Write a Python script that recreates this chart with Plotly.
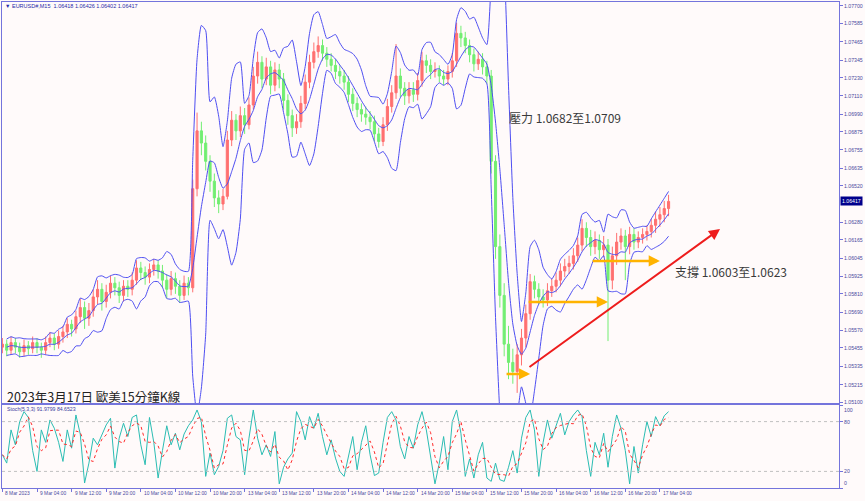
import plotly.graph_objects as go
import pandas as pd

# ---------------- data (hourly bars, index = trading hour since 8 Mar 20:00) ----------------
first_open = 1.0546
closes = [1.0548,1.0544,1.0549,1.0546,1.0543,1.0547,1.0545,1.0549,1.0546,1.0544,
          1.0549,1.0552,1.0548,1.0553,1.0556,1.0561,1.0558,1.0566,1.0572,1.0565,
          1.0570,1.0579,1.0584,1.0576,1.0582,1.0588,1.0585,1.0580,1.0586,1.0584,
          1.0590,1.0598,1.0595,1.0592,1.0597,1.0600,1.0596,1.0590,1.0584,1.0591,
          1.0586,1.0580,1.0588,1.0585,1.0650,1.0688,1.0680,1.0668,1.0655,1.0644,
          1.0640,1.0645,1.0682,1.0695,1.0688,1.0698,1.0692,1.0705,1.0724,1.0733,
          1.0722,1.0730,1.0718,1.0728,1.0722,1.0708,1.0698,1.0690,1.0694,1.0706,
          1.0720,1.0733,1.0740,1.0744,1.0739,1.0735,1.0731,1.0727,1.0724,1.0720,
          1.0712,1.0706,1.0702,1.0699,1.0697,1.0694,1.0686,1.0681,1.0692,1.0704,
          1.0713,1.0724,1.0716,1.0711,1.0715,1.0712,1.0721,1.0734,1.0731,1.0727,
          1.0728,1.0724,1.0722,1.0727,1.0734,1.0752,1.0749,1.0744,1.0738,1.0732,
          1.0735,1.0730,1.0724,1.0668,1.0612,1.0580,1.0548,1.0536,1.0530,1.0541,
          1.0552,1.0568,1.0589,1.0584,1.0579,1.0577,1.0583,1.0586,1.0590,1.0596,
          1.0599,1.0601,1.0606,1.0613,1.0624,1.0618,1.0612,1.0616,1.0610,1.0613,
          1.0590,1.0606,1.0615,1.0619,1.0612,1.0620,1.0615,1.0618,1.0620,1.0622,
          1.0626,1.0630,1.0633,1.0637,1.06417]
highs = [1.0552,1.0551,1.0553,1.0552,1.0549,1.0551,1.0550,1.0553,1.0552,1.0549,
         1.0553,1.0556,1.0555,1.0557,1.0560,1.0565,1.0564,1.0570,1.0578,1.0576,
         1.0575,1.0584,1.0590,1.0588,1.0587,1.0593,1.0592,1.0589,1.0590,1.0590,
         1.0595,1.0603,1.0602,1.0599,1.0601,1.0604,1.0603,1.0600,1.0594,1.0596,
         1.0595,1.0590,1.0593,1.0592,1.0656,1.0700,1.0694,1.0685,1.0672,1.0660,
         1.0649,1.0650,1.0688,1.0701,1.0699,1.0704,1.0703,1.0710,1.0730,1.0740,
         1.0737,1.0736,1.0734,1.0733,1.0732,1.0726,1.0712,1.0702,1.0699,1.0711,
         1.0725,1.0738,1.0746,1.0750,1.0748,1.0743,1.0739,1.0735,1.0731,1.0728,
         1.0724,1.0716,1.0710,1.0706,1.0704,1.0701,1.0698,1.0690,1.0697,1.0709,
         1.0718,1.0745,1.0729,1.0720,1.0720,1.0720,1.0726,1.0740,1.0738,1.0735,
         1.0733,1.0731,1.0728,1.0731,1.0739,1.0759,1.0757,1.0753,1.0748,1.0742,
         1.0740,1.0739,1.0734,1.0728,1.0672,1.0620,1.0588,1.0560,1.0545,1.0548,
         1.0558,1.0574,1.0594,1.0593,1.0588,1.0584,1.0588,1.0591,1.0595,1.0601,
         1.0604,1.0606,1.0611,1.0618,1.0630,1.0628,1.0623,1.0622,1.0620,1.0619,
         1.0617,1.0612,1.0621,1.0624,1.0623,1.0625,1.0624,1.0622,1.0624,1.0626,
         1.0630,1.0635,1.0638,1.0642,1.0646]
lows = [1.0542,1.0540,1.0541,1.0542,1.0539,1.0540,1.0541,1.0542,1.0542,1.0539,
        1.0541,1.0546,1.0544,1.0545,1.0549,1.0552,1.0553,1.0555,1.0562,1.0558,
        1.0560,1.0566,1.0574,1.0570,1.0572,1.0578,1.0580,1.0575,1.0576,1.0579,
        1.0580,1.0587,1.0590,1.0587,1.0588,1.0593,1.0591,1.0585,1.0578,1.0580,
        1.0581,1.0575,1.0577,1.0580,1.0582,1.0645,1.0672,1.0662,1.0648,1.0638,
        1.0634,1.0636,1.0643,1.0678,1.0682,1.0684,1.0686,1.0689,1.0702,1.0719,
        1.0716,1.0718,1.0712,1.0714,1.0716,1.0702,1.0692,1.0684,1.0686,1.0690,
        1.0702,1.0716,1.0729,1.0736,1.0734,1.0730,1.0727,1.0722,1.0719,1.0715,
        1.0707,1.0701,1.0697,1.0694,1.0692,1.0689,1.0681,1.0677,1.0678,1.0688,
        1.0700,1.0709,1.0710,1.0705,1.0706,1.0707,1.0708,1.0717,1.0726,1.0722,
        1.0723,1.0720,1.0718,1.0718,1.0723,1.0730,1.0743,1.0739,1.0733,1.0727,
        1.0728,1.0725,1.0719,1.0660,1.0604,1.0572,1.0540,1.0525,1.0522,1.0516,
        1.0534,1.0546,1.0564,1.0578,1.0574,1.0572,1.0573,1.0579,1.0582,1.0586,
        1.0592,1.0594,1.0597,1.0602,1.0609,1.0612,1.0606,1.0607,1.0604,1.0605,
        1.0550,1.0584,1.0600,1.0610,1.0590,1.0607,1.0610,1.0611,1.0614,1.0616,
        1.0618,1.0621,1.0625,1.0628,1.0632]
stoch_main = [40,30,70,52,80,92,85,45,20,70,
              55,82,72,55,32,70,48,88,65,6,
              30,60,52,64,76,84,24,60,78,62,
              85,88,52,28,85,55,12,45,75,52,
              66,46,65,75,82,94,80,14,42,16,
              26,45,84,88,62,58,16,60,94,60,
              40,52,38,68,5,25,35,42,92,80,
              58,86,72,90,62,40,58,36,20,14,
              40,62,22,55,75,40,15,18,55,85,
              92,82,50,35,62,48,76,92,70,38,
              5,30,62,22,80,94,66,14,35,12,
              40,55,12,8,30,10,8,25,45,18,
              60,85,94,70,14,55,82,60,76,90,
              64,80,88,94,86,45,14,55,40,66,
              25,62,88,72,45,5,50,18,52,80,
              62,86,75,87,91.98]

tick_hours = [0, 8, 16, 24, 32, 40, 48, 56, 64, 72, 80, 88, 96, 104, 112, 120, 128, 136, 144, 152]
tick_labels = ["8 Mar 2023", "9 Mar 04:00", "9 Mar 12:00", "9 Mar 20:00", "10 Mar 04:00",
               "10 Mar 12:00", "10 Mar 20:00", "13 Mar 04:00", "13 Mar 12:00", "13 Mar 20:00",
               "14 Mar 04:00", "14 Mar 12:00", "14 Mar 20:00", "15 Mar 04:00", "15 Mar 12:00",
               "15 Mar 20:00", "16 Mar 04:00", "16 Mar 12:00", "16 Mar 20:00", "17 Mar 04:00"]
price_ticks = [1.07700, 1.07585, 1.07465, 1.07345, 1.07230, 1.07110, 1.06990, 1.06875,
               1.06755, 1.06635, 1.06520, 1.06280, 1.06165, 1.06045, 1.05925, 1.05810,
               1.05690, 1.05570, 1.05455, 1.05335, 1.05215, 1.05100]
stoch_ticks = [0, 20, 80, 100]
stoch_levels = [20, 80]

header_text = "EURUSD#,M15  1.06418 1.06426 1.06402 1.06417"
stoch_text = "Stoch(5,3,3) 91.9799 84.6523"
title_text = "2023年3月17日 歐美15分鐘K線"
resist_text = "壓力 1.0682至1.0709"
support_text = "支撐 1.0603至1.0623"
resist_pos = (116.7, 1.06965)
support_pos = (155.1, 1.05954)
title_pos = (0.6, 1.05133)

# arrows: (tail bar, tail price, head bar, head price)
orange_arrows = [(116.2, 1.05284, 122.0, 1.05284),
                 (121.3, 1.05757, 140.0, 1.05757),
                 (136.1, 1.06026, 152.0, 1.06026)]
trend_arrow = (121.5, 1.05323, 165.9, 1.06236)

# ---------------- derived ----------------
idx = list(range(len(closes)))
opens = [first_open] + closes[:-1]
s = pd.Series(closes)
mid = s.rolling(5, min_periods=2).mean()
sd = s.rolling(5, min_periods=2).std(ddof=0)
upper = mid + 2.7 * sd
lower = mid - 2.7 * sd
stoch_signal = pd.Series(stoch_main).rolling(3, min_periods=1).mean()

BG = "#fffafa"
AX = "#7474dc"
LBL = "#4a4aa0"
BLUE = "#4e4ef2"
UP = "#ff7070"
DN = "#72ee72"
SMALL = "Liberation Sans, DejaVu Sans, sans-serif"

fig = go.Figure()
fig.add_trace(go.Candlestick(
    x=idx, open=opens, high=highs, low=lows, close=closes,
    increasing=dict(line=dict(color=UP, width=1), fillcolor=UP),
    decreasing=dict(line=dict(color=DN, width=1), fillcolor=DN),
    whiskerwidth=0, xaxis="x", yaxis="y", showlegend=False, hoverinfo="skip"))
for band in (upper, mid, lower):
    fig.add_trace(go.Scatter(x=idx, y=band, mode="lines",
                             line=dict(color=BLUE, width=1, shape="spline", smoothing=0.5),
                             xaxis="x", yaxis="y", showlegend=False, hoverinfo="skip"))
fig.add_trace(go.Scatter(x=idx, y=stoch_main, mode="lines",
                         line=dict(color="#2bbdb3", width=1),
                         xaxis="x2", yaxis="y2", showlegend=False, hoverinfo="skip"))
fig.add_trace(go.Scatter(x=idx, y=stoch_signal, mode="lines",
                         line=dict(color="#ff2a2a", width=1, dash="dot"),
                         xaxis="x2", yaxis="y2", showlegend=False, hoverinfo="skip"))

split = 84 / 486
xr = [-0.09, 193.4]
fig.update_layout(
    width=865, height=501,
    margin=dict(l=2, r=26, t=2, b=13),
    paper_bgcolor=BG, plot_bgcolor=BG,
    font=dict(family=SMALL, color=LBL),
    xaxis=dict(domain=[0, 1], anchor="y", range=xr, showticklabels=False, ticks="",
               showgrid=False, zeroline=False, showline=True, mirror=True,
               linecolor=AX, linewidth=1, rangeslider=dict(visible=False)),
    xaxis2=dict(domain=[0, 1], anchor="y2", range=xr, matches="x",
                tickvals=tick_hours, showticklabels=False, ticks="outside", ticklen=3,
                tickcolor=AX, showgrid=False, zeroline=False,
                showline=True, mirror=True, linecolor=AX, linewidth=1),
    yaxis=dict(domain=[split, 1], anchor="x", side="right",
               range=[1.05087, 1.07726], tickvals=price_ticks, showticklabels=False,
               ticks="outside", ticklen=3, tickcolor=AX, showgrid=False,
               zeroline=False, showline=True, mirror=True, linecolor=AX, linewidth=1),
    yaxis2=dict(domain=[0, split], anchor="x2", side="right", range=[0, 101.2],
                tickvals=stoch_ticks, showticklabels=False,
                ticks="outside", ticklen=3, tickcolor=AX,
                showgrid=False, zeroline=False, showline=True, mirror=True,
                linecolor=AX, linewidth=1),
)

for lv in stoch_levels:
    fig.add_shape(type="line", xref="x2 domain", yref="y2", x0=0, x1=1, y0=lv, y1=lv,
                  line=dict(color="#c0c0c0", width=1, dash="dot"))

annotations = []
# right price-axis labels
for v in price_ticks:
    annotations.append(dict(x=1, y=v, xref="paper", yref="y", text=f"{v:.5f}",
                            showarrow=False, xanchor="left", yanchor="middle", xshift=3,
                            font=dict(family=SMALL, size=5.2, color=LBL)))
# stochastic axis labels
for v in stoch_ticks:
    ya = "top" if v == 100 else ("bottom" if v == 0 else "middle")
    annotations.append(dict(x=1, y=v, xref="paper", yref="y2", text=str(v),
                            showarrow=False, xanchor="left", yanchor=ya, xshift=3,
                            font=dict(family=SMALL, size=5.2, color=LBL)))
# time-axis labels
for h, t in zip(tick_hours, tick_labels):
    annotations.append(dict(x=h, y=0, xref="x2", yref="paper", text=t, showarrow=False,
                            xanchor="left", yanchor="top", xshift=1, yshift=-1,
                            font=dict(family=SMALL, size=4.9, color=LBL)))
for tx, ty, hx, hy in orange_arrows:
    annotations.append(dict(x=hx, y=hy, ax=tx, ay=ty, xref="x", yref="y", axref="x", ayref="y",
                            text="", showarrow=True, arrowhead=2, arrowsize=0.9,
                            arrowwidth=2.5, arrowcolor="#ffb300"))
tx, ty, hx, hy = trend_arrow
annotations.append(dict(x=hx, y=hy, ax=tx, ay=ty, xref="x", yref="y", axref="x", ayref="y",
                        text="", showarrow=True, arrowhead=2, arrowsize=1.1,
                        arrowwidth=2, arrowcolor="#ee1c1c"))
cjk = "Noto Sans CJK TC, Noto Sans CJK SC, sans-serif"
annotations.append(dict(x=resist_pos[0], y=resist_pos[1], xref="x", yref="y", text=resist_text,
                        showarrow=False, xanchor="left", yanchor="middle",
                        font=dict(family=cjk, size=12, color="#3a3a3a")))
annotations.append(dict(x=support_pos[0], y=support_pos[1], xref="x", yref="y", text=support_text,
                        showarrow=False, xanchor="left", yanchor="middle",
                        font=dict(family=cjk, size=12, color="#3a3a3a")))
annotations.append(dict(x=title_pos[0], y=title_pos[1], xref="x", yref="y", text=title_text,
                        showarrow=False, xanchor="left", yanchor="middle",
                        font=dict(family=cjk, size=12.5, color="#222222")))
annotations.append(dict(x=0.0015, y=1 - 4 / 486, xref="paper", yref="paper",
                        text="▼ " + header_text, showarrow=False, xanchor="left",
                        yanchor="middle", font=dict(family=SMALL, size=5.5, color="#2a2aa8")))
annotations.append(dict(x=0.0035, y=(488 - 409) / 486, xref="paper", yref="paper",
                        text=stoch_text, showarrow=False, xanchor="left", yanchor="middle",
                        font=dict(family=SMALL, size=5.2, color="#3a3aa0")))
annotations.append(dict(x=1, y=closes[-1], xref="paper", yref="y", text=f"{closes[-1]:.5f}",
                        showarrow=False, xanchor="left", yanchor="middle", xshift=1,
                        bgcolor="#00008c", borderpad=1,
                        font=dict(family=SMALL, size=5.2, color="#ffffff")))
fig.update_layout(annotations=annotations)

fig.write_html("out.html", config={"displayModeBar": False},
               post_script="document.body.style.margin='0px';document.body.style.overflow='hidden';")
